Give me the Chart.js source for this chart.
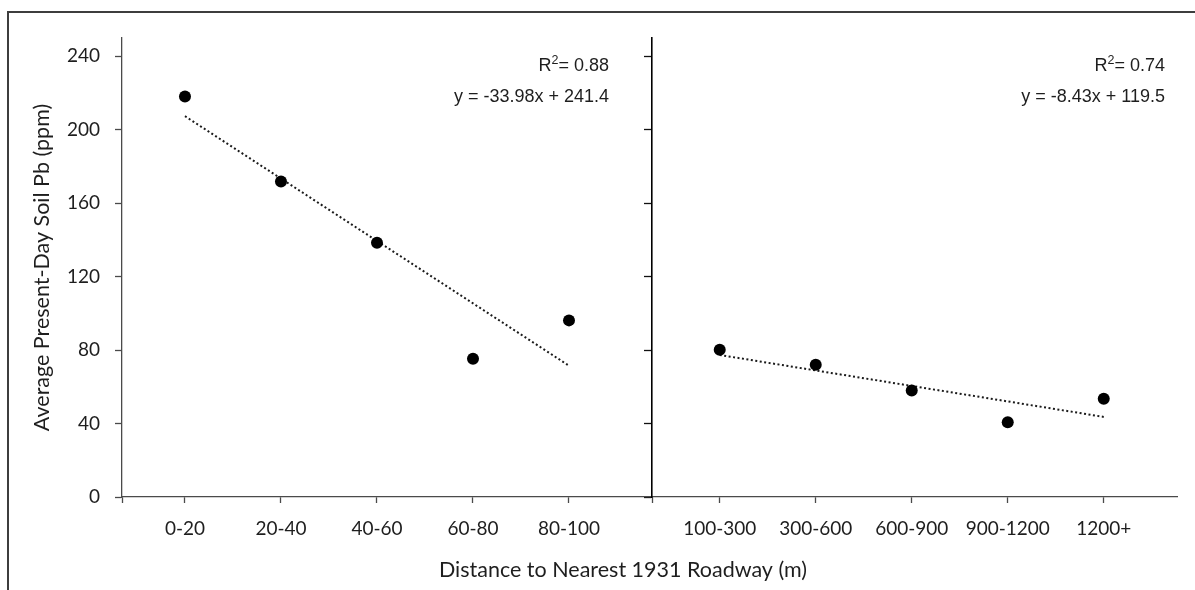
<!DOCTYPE html>
<html>
<head>
<meta charset="utf-8">
<script src="https://cdn.jsdelivr.net/npm/chart.js@4.4.1/dist/chart.umd.min.js"></script>
<style>
  html, body { margin: 0; padding: 0; background: #fff; }
  #wrap { position: relative; width: 1195px; height: 590px; overflow: hidden; }
  #frame { position: absolute; left: 7px; top: 11px; right: -10px; bottom: -10px;
           border-top: 2px solid #3d3d3d; border-left: 2px solid #3d3d3d; }
  canvas { position: absolute; left: 0; top: 0; }
</style>
</head>
<body>
<div id="wrap">
  <div id="frame"></div>
  <canvas id="chart" width="1195" height="590"></canvas>
</div>
<script>
// Distance bands from the 1931 roadway network
const nearBands = ['0-20', '20-40', '40-60', '60-80', '80-100'];
const farBands = ['100-300', '300-600', '600-900', '900-1200', '1200+'];

// Average present-day soil Pb (ppm) per band
const nearPb = [218.2, 171.8, 138.5, 75.3, 96.2];
const farPb = [80.2, 72.0, 58.0, 40.7, 53.5];

// Linear fits as reported for each panel
const fitSlope = [-33.98, -8.43];
const fitIntercept = [241.4, 119.5];
const fitR2 = [0.88, 0.74];
const fitFirstX = [1, 5];   // regression x of the first band in each panel

const yTicks = [0, 40, 80, 120, 160, 200, 240];

// Horizontal layout of the two panels on one shared linear axis
const X_MIN = 0.344, X_MAX = 11.333;
const FAR_START = 6.57;
const DIVIDER = 5.865;

const nearX = nearBands.map((_, i) => i + 1);
const farX = farBands.map((_, i) => i + FAR_START);

const xTickValues = [X_MIN, ...nearX, DIVIDER, ...farX];
const xTickText = ['', ...nearBands, '', ...farBands];

function fitLine(k, xs) {
  const last = xs.length - 1;
  return [0, last].map(i => ({
    x: xs[i],
    y: fitIntercept[k] + fitSlope[k] * (fitFirstX[k] + i)
  }));
}

const INK = '#1e1e1e';
const AXIS = '#4a4a4a';
const LABEL_FONT = { family: 'Lato', size: 19 };
const TITLE_SIZE = 21.5;

const fitText = {
  id: 'fitText',
  afterDraw(chart) {
    const { ctx, chartArea, scales } = chart;
    ctx.save();
    ctx.fillStyle = INK;

    // horizontal axis title
    ctx.font = TITLE_SIZE + 'px Lato';
    ctx.textAlign = 'center';
    ctx.textBaseline = 'alphabetic';
    ctx.fillText('Distance to Nearest 1931 Roadway (m)', 623, 577);

    // R² and equation for each panel, right aligned
    const rights = [scales.x.getPixelForValue(DIVIDER) - 43, chartArea.right - 12];
    ctx.textAlign = 'left';
    rights.forEach((right, k) => {
      const big = '18px "Liberation Sans", Arial, sans-serif';
      const small = '12.5px "Liberation Sans", Arial, sans-serif';
      const tail = '= ' + fitR2[k].toFixed(2);
      ctx.font = big;
      const wR = ctx.measureText('R').width;
      const wTail = ctx.measureText(tail).width;
      ctx.font = small;
      const w2 = ctx.measureText('2').width;
      const x = right - (wR + w2 + wTail);
      ctx.font = big;
      ctx.fillText('R', x, 71);
      ctx.font = small;
      ctx.fillText('2', x + wR, 64);
      ctx.font = big;
      ctx.fillText(tail, x + wR + w2, 71);

      const sign = fitIntercept[k] >= 0 ? ' + ' : ' - ';
      const eq = 'y = ' + fitSlope[k].toFixed(2) + 'x' + sign + Math.abs(fitIntercept[k]).toFixed(1);
      ctx.textAlign = 'right';
      ctx.fillText(eq, right, 102);
      ctx.textAlign = 'left';
    });
    ctx.restore();
  }
};

function pointSet(xs, ys) {
  return {
    type: 'scatter',
    data: xs.map((x, i) => ({ x, y: ys[i] })),
    pointRadius: 6,
    pointHoverRadius: 6,
    pointBackgroundColor: '#000',
    pointBorderWidth: 0,
    showLine: false,
    order: 0
  };
}

function trendSet(k, xs) {
  return {
    type: 'line',
    data: fitLine(k, xs),
    borderColor: '#1a1a1a',
    borderWidth: 2,
    borderDash: [2, 2.5],
    pointRadius: 0,
    fill: false,
    order: 1
  };
}

function draw() {
  new Chart(document.getElementById('chart'), {
    type: 'scatter',
    data: {
      datasets: [
        pointSet(nearX, nearPb),
        pointSet(farX, farPb),
        trendSet(0, nearX),
        trendSet(1, farX)
      ]
    },
    options: {
      responsive: false,
      animation: false,
      devicePixelRatio: 1,
      layout: { padding: { left: 0, right: 18, top: 38, bottom: 0 } },
      plugins: { legend: { display: false }, tooltip: { enabled: false } },
      scales: {
        x: {
          type: 'linear',
          min: X_MIN,
          max: X_MAX,
          afterBuildTicks: s => { s.ticks = xTickValues.map(v => ({ value: v })); },
          afterFit: s => { s.height = 93; },
          ticks: {
            autoSkip: false,
            maxRotation: 0,
            padding: 14,
            color: INK,
            font: LABEL_FONT,
            callback: (v, i) => xTickText[i]
          },
          grid: { drawOnChartArea: false, drawTicks: true, tickLength: 6, color: AXIS, tickWidth: 1.3 },
          border: { color: AXIS, width: 1.3 }
        },
        y: {
          type: 'linear',
          position: 'left',
          min: 0,
          max: 250,
          afterBuildTicks: s => { s.ticks = yTicks.map(v => ({ value: v })); },
          afterFit: s => { s.width = 122; },
          ticks: { padding: 15, color: INK, font: LABEL_FONT },
          grid: { drawOnChartArea: false, drawTicks: true, tickLength: 7, color: AXIS, tickWidth: 1.3 },
          border: { color: AXIS, width: 1.3 },
          title: {
            display: true,
            text: 'Average Present-Day Soil Pb (ppm)',
            color: INK,
            font: { family: 'Lato', size: TITLE_SIZE },
            padding: { top: 29, bottom: 0 }
          }
        },
        y2: {
          type: 'linear',
          axis: 'y',
          position: { x: DIVIDER },
          min: 0,
          max: 250,
          afterBuildTicks: s => { s.ticks = yTicks.map(v => ({ value: v })); },
          ticks: { display: false },
          grid: { drawOnChartArea: false, drawTicks: true, tickLength: 7, color: '#111', tickWidth: 1.3 },
          border: { color: '#000', width: 1.6 }
        }
      }
    },
    plugins: [fitText]
  });
}

Promise.all([
  document.fonts.load('19px Lato'),
  document.fonts.load('21.5px Lato'),
  document.fonts.load('18px "Liberation Sans"')
]).then(draw, draw);
</script>
</body>
</html>
